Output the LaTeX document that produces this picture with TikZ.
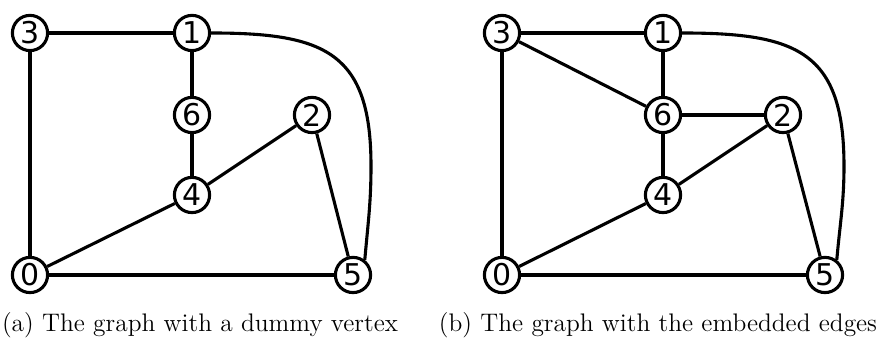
\documentclass[tikz,border=0pt]{standalone}
\usepackage{fontspec}
\newfontfamily\vertexfont{DejaVu Sans}
\tikzset{
  vertex/.style={draw, circle, minimum size=17.6pt, inner sep=0pt,
                 line width=1.55pt, font=\vertexfont\fontsize{15}{15}\selectfont},
  edge/.style={line width=1.55pt},
  caption/.style={anchor=base, inner sep=0pt, font=\fontsize{12.7}{14}\selectfont},
}
\begin{document}
\begin{tikzpicture}[x=0.5pt, y=0.5pt]
  \useasboundingbox (0,0) rectangle (879,341);
  % (a) graph with the dummy vertex 6
  \begin{scope}
    \node[vertex] (a3) at (30, 308) {3};
    \node[vertex] (a1) at (192, 308) {1};
    \node[vertex] (a6) at (192, 226) {6};
    \node[vertex] (a2) at (312, 226) {2};
    \node[vertex] (a4) at (192, 146) {4};
    \node[vertex] (a0) at (30, 66) {0};
    \node[vertex] (a5) at (353, 66) {5};
    \coordinate (a15) at (371, 175);
    \draw[edge] (a3) -- (a1);
    \draw[edge] (a3) -- (a0);
    \draw[edge] (a1) -- (a6);
    \draw[edge] (a6) -- (a4);
    \draw[edge] (a4) -- (a2);
    \draw[edge] (a4) -- (a0);
    \draw[edge] (a2) -- (a5);
    \draw[edge] (a0) -- (a5);
    \draw[edge] (a1) to[out=0, in=90, looseness=1.4] (a15) to[out=-90, in=85] (a5.52);
    \node[caption] (capa) at (200, 9) {(a) The graph with a dummy vertex};
  \end{scope}
  % (b) graph with the embedded edges
  \begin{scope}[xshift=236pt]
    \node[vertex] (b3) at (30, 308) {3};
    \node[vertex] (b1) at (191, 308) {1};
    \node[vertex] (b6) at (191, 226) {6};
    \node[vertex] (b2) at (311, 226) {2};
    \node[vertex] (b4) at (191, 146) {4};
    \node[vertex] (b0) at (30, 66) {0};
    \node[vertex] (b5) at (353, 66) {5};
    \coordinate (b15) at (372, 175);
    \draw[edge] (b3) -- (b1);
    \draw[edge] (b3) -- (b0);
    \draw[edge] (b3) -- (b6);
    \draw[edge] (b1) -- (b6);
    \draw[edge] (b6) -- (b2);
    \draw[edge] (b6) -- (b4);
    \draw[edge] (b4) -- (b2);
    \draw[edge] (b4) -- (b0);
    \draw[edge] (b2) -- (b5);
    \draw[edge] (b0) -- (b5);
    \draw[edge] (b1) to[out=0, in=90, looseness=1.4] (b15) to[out=-90, in=85] (b5.52);
    \node[caption] (capb) at (186, 9) {(b) The graph with the embedded edges};
  \end{scope}
\end{tikzpicture}
\end{document}
